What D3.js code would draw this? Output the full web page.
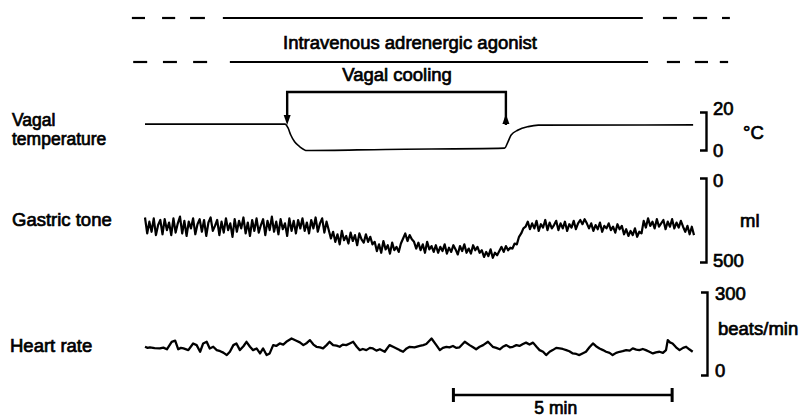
<!DOCTYPE html>
<html>
<head>
<meta charset="utf-8">
<script src="https://cdn.jsdelivr.net/npm/d3@7"></script>
<style>
  html, body { margin: 0; padding: 0; background: #fff; }
  svg { display: block; }
  text { font-family: "Liberation Sans", Arial, sans-serif; fill: #000; stroke: #000; stroke-width: 0.7px; }
</style>
</head>
<body>
<svg id="chart" width="804" height="418"></svg>
<script>
// ---------------- data ----------------
// time in minutes from start of recording
const infusionTop = [[-0.30, 0.00], [0.39, 0.69], [1.03, 1.37], [1.78, 11.38], [11.84, 12.16], [12.53, 12.85], [13.19, 13.37]];
const infusionBottom = [[-0.27, 0.05], [0.41, 0.73], [1.10, 1.42], [1.94, 11.50], [11.93, 12.23], [12.57, 12.87], [13.14, 13.33]];
const infusionLabel = "Intravenous adrenergic agonist";

const coolingPeriod = [3.25, 8.25];
const coolingLabel = "Vagal cooling";

// vagal temperature, [minute, °C]
const vagalTemperature = [
  [0, 13.6], [3.20, 13.6], [3.27, 11.6], [3.33, 8.0], [3.42, 4.3], [3.54, 1.7], [3.70, -0.3],
  [5.50, 0.3], [8.22, 1.0], [8.30, 4.4], [8.37, 7.9], [8.53, 10.5], [8.76, 12.3], [8.99, 13.1], [12.53, 13.2]
];

// gastric tone (ml), sampled every 0.05 min
const gastricStep = 0.05;
const gastricTone = [
  235,330,260,320,240,340,280,250,335,245,310,265,
  340,240,325,270,230,330,255,345,260,300,240,335,
  275,245,320,250,345,265,235,315,285,250,340,260,
  325,240,310,270,350,245,320,255,300,235,330,265,
  345,250,315,240,325,280,245,340,255,310,230,320,
  260,335,245,305,270,345,240,315,255,330,250,300,
  240,315,265,330,250,300,235,320,270,240,325,260,310,
  360,320,380,335,395,315,370,345,390,325,375,340,400,330,365,385,335,380,350,395,
  380,435,395,445,375,425,400,450,385,430,410,440,390,
  360,330,375,340,365,380,
  420,385,430,395,445,380,425,405,440,
  400,445,410,435,395,450,415,440,400,425,455,405,435,395,445,420,450,400,430,410,445,
  430,470,440,465,425,475,445,460,435,
  410,440,405,430,415,
  420,390,395,350,330,300,290,
  260,305,270,300,255,315,275,295,250,310,265,300,280,255,310,270,300,260,315,275,295,255,305,270,
  250,275,245,270,
  300,270,315,280,305,265,320,285,300,270,310,290,325,275,305,285,
  335,305,345,315,340,300,350,320,330,
  255,295,240,285,260,300,245,290,270,250,305,260,290,245,300,265,295,255,
  290,320,285,335,290,340
];

// heart rate, [minute, beats/min]
const heartRate = [
  [0,102],[0.06,98],[0.11,100],[0.22,97],[0.34,96],[0.42,99],[0.50,93],[0.61,120],[0.69,124],[0.76,93],[0.82,98],[0.88,96],[0.99,90],[1.10,114],
  [1.18,108],[1.26,84],[1.33,114],[1.41,120],[1.48,96],[1.56,102],[1.64,90],[1.72,86],[1.79,81],[1.87,72],[1.94,84],
  [2.02,108],[2.09,114],[2.17,90],[2.25,104],[2.32,120],[2.40,102],[2.47,90],[2.55,96],[2.63,78],[2.70,96],[2.78,72],
  [2.85,78],[2.93,108],[3.00,105],[3.08,114],[3.16,110],[3.23,120],[3.35,132],[3.46,124],[3.54,118],[3.62,108],[3.70,116],[3.77,126],[3.85,110],[3.92,102],[4.00,100],[4.07,96],
  [4.15,108],[4.22,120],[4.30,108],[4.38,106],[4.45,102],[4.52,110],[4.60,108],[4.68,114],[4.76,120],[4.84,102],[4.91,90],[4.98,94],[5.06,90],[5.14,98],[5.21,96],[5.29,88],[5.37,93],[5.48,84],
  [5.59,108],[5.67,102],[5.75,96],[5.82,90],[5.90,84],[5.98,96],[6.05,102],[6.16,100],[6.28,105],[6.36,108],[6.43,112],[6.55,132],[6.66,108],[6.74,90],
  [6.81,98],[6.89,102],[6.96,100],[7.04,105],[7.12,98],[7.19,100],[7.31,120],[7.42,108],[7.50,100],[7.57,93],[7.65,102],[7.73,108],[7.84,120],[7.95,102],[8.03,98],[8.11,93],
  [8.18,102],[8.26,108],[8.34,100],[8.41,102],[8.49,108],[8.56,105],[8.64,112],[8.71,117],[8.79,110],[8.87,117],[8.95,102],[9.02,90],[9.10,84],[9.17,72],[9.25,84],[9.32,90],[9.40,98],[9.48,96],[9.55,94],[9.63,90],
  [9.70,86],[9.78,78],[9.86,76],[9.93,72],[10.00,78],[10.08,84],[10.16,100],[10.24,114],[10.31,104],[10.39,96],[10.47,90],[10.54,84],[10.62,80],[10.69,72],[10.77,80],[10.85,84],[10.92,86],[11.00,90],[11.08,88],[11.15,96],
  [11.23,92],[11.30,90],[11.38,94],[11.45,90],[11.53,84],[11.61,78],[11.68,82],[11.76,84],[11.84,80],[11.91,90],[11.95,126],[12.00,118],[12.06,114],[12.14,100],[12.22,90],[12.30,98],[12.37,102],[12.45,92],[12.52,84]
];

const traceLabels = [["Vagal", "temperature"], ["Gastric tone"], ["Heart rate"]];
const tempTicks = [20, 0];
const tempUnit = "°C";
const gastricTicks = [0, 500];
const gastricUnit = "ml";
const heartTicks = [300, 0];
const heartUnit = "beats/min";
const scaleBar = [7.05, 12.05];
const scaleBarLabel = "5 min";

// ---------------- drawing ----------------
const svg = d3.select("#chart");
const x = d3.scaleLinear().domain([0, 12.55]).range([145, 694]);
const yT = d3.scaleLinear().domain([0, 20]).range([150, 112]);
const yG = d3.scaleLinear().domain([0, 500]).range([178, 262]);
const yH = d3.scaleLinear().domain([0, 300]).range([375, 292]);

// infusion bars
function drawSegments(segs, y) {
  svg.append("g").selectAll("line").data(segs).join("line")
    .attr("x1", d => x(d[0])).attr("x2", d => x(d[1]))
    .attr("y1", y).attr("y2", y)
    .attr("stroke", "#000").attr("stroke-width", 2.2);
}
drawSegments(infusionTop, 18);
drawSegments(infusionBottom, 62);
svg.append("text").attr("x", 283).attr("y", 49)
  .attr("font-size", 18.5).attr("textLength", 254).attr("lengthAdjust", "spacingAndGlyphs")
  .text(infusionLabel);

// vagal cooling bracket
const cy = 92, cb = 125;
svg.append("path")
  .attr("d", `M${x(coolingPeriod[0])},${cb - 8}V${cy}H${x(coolingPeriod[1])}V${cb}`)
  .attr("fill", "none").attr("stroke", "#000").attr("stroke-width", 2.4);
svg.append("path")
  .attr("d", `M${x(coolingPeriod[0]) - 3.5},${cb - 10}L${x(coolingPeriod[0]) + 3.5},${cb - 10}L${x(coolingPeriod[0])},${cb}Z`)
  .attr("fill", "#000");
svg.append("path")
  .attr("d", `M${x(coolingPeriod[1]) - 3.5},${cb - 1}L${x(coolingPeriod[1]) + 3.5},${cb - 1}L${x(coolingPeriod[1])},${cb - 11}Z`)
  .attr("fill", "#000");
svg.append("text").attr("x", (x(coolingPeriod[0]) + x(coolingPeriod[1])) / 2 + 0.5).attr("y", 81)
  .attr("text-anchor", "middle").attr("font-size", 18.5)
  .text(coolingLabel);

// traces
svg.append("path")
  .datum(vagalTemperature)
  .attr("d", d3.line().x(d => x(d[0])).y(d => yT(d[1])).curve(d3.curveMonotoneX))
  .attr("fill", "none").attr("stroke", "#000").attr("stroke-width", 1.6);

svg.append("path")
  .datum(gastricTone.map((v, i) => [i * gastricStep, v]))
  .attr("d", d3.line().x(d => x(d[0])).y(d => yG(d[1])))
  .attr("fill", "none").attr("stroke", "#000").attr("stroke-width", 2.2).attr("stroke-linejoin", "round");

svg.append("path")
  .datum(heartRate)
  .attr("d", d3.line().x(d => x(d[0])).y(d => yH(d[1])))
  .attr("fill", "none").attr("stroke", "#000").attr("stroke-width", 2.3).attr("stroke-linejoin", "round");

// brackets (calibration axes)
function bracket(scale, xpos) {
  const g = svg.append("g").attr("transform", `translate(${xpos},0)`)
    .call(d3.axisRight(scale).tickValues([]).tickSizeOuter(-6));
  g.select(".domain").attr("stroke", "#000").attr("stroke-width", 2.4).attr("fill", "none");
  return g;
}
bracket(yT, 706);
bracket(yG, 706);
bracket(yH, 707);

function tickLabel(txt, xp, yp, fs) {
  svg.append("text").attr("x", xp).attr("y", yp).attr("font-size", fs || 18.5).text(txt);
}
tickLabel(tempTicks[0], 713, yT(tempTicks[0]) + 3);
tickLabel(tempTicks[1], 713, yT(tempTicks[1]) + 7);
tickLabel(tempUnit, 743, 139);
tickLabel(gastricTicks[0], 713, yG(gastricTicks[0]) + 9);
tickLabel(gastricTicks[1], 713, yG(gastricTicks[1]) + 5);
tickLabel(gastricUnit, 740, 227);
tickLabel(heartTicks[0], 715, yH(heartTicks[0]) + 8);
tickLabel(heartTicks[1], 715, yH(heartTicks[1]) + 2);
tickLabel(heartUnit, 718, 335);

tickLabel(traceLabels[0][0], 12, 126, 17.5);
tickLabel(traceLabels[0][1], 12, 145, 17.5);
tickLabel(traceLabels[1][0], 12, 226);
tickLabel(traceLabels[2][0], 10, 352);

// time scale bar
const sb = svg.append("g");
sb.append("line").attr("x1", x(scaleBar[0])).attr("x2", x(scaleBar[1])).attr("y1", 395).attr("y2", 395)
  .attr("stroke", "#000").attr("stroke-width", 2.4);
sb.selectAll(".cap").data(scaleBar).join("line").attr("class", "cap")
  .attr("x1", d => x(d)).attr("x2", d => x(d)).attr("y1", 388).attr("y2", 402)
  .attr("stroke", "#000").attr("stroke-width", 3);
sb.append("text").attr("x", (x(scaleBar[0]) + x(scaleBar[1])) / 2 - 7).attr("y", 414)
  .attr("text-anchor", "middle").attr("font-size", 17.5).text(scaleBarLabel);
</script>
</body>
</html>
